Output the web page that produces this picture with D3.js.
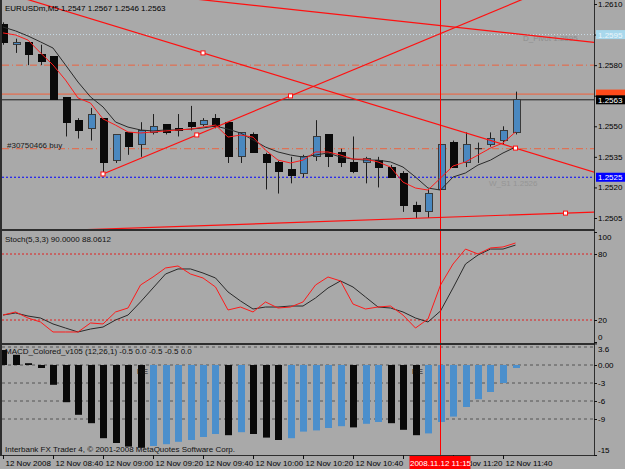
<!DOCTYPE html>
<html>
<head>
<meta charset="utf-8">
<script src="https://cdn.jsdelivr.net/npm/d3@7"></script>
<style>
  body { margin: 0; background: #a9a9a9; }
  svg { display: block; }
  text { font-family: "Liberation Sans", Arial, sans-serif; font-size: 8px; }
</style>
</head>
<body>
<div id="chart"></div>
<script>
// EURUSDm M5, 12 Nov 2008 08:20 - 11:45
const openP  = [1.2600,1.2590,1.2591,1.2585,1.2584,1.2564,1.2553,1.2549,1.2554,1.2533,1.2547,1.2541,1.2547,1.2551,1.2549,1.2552,1.2551,1.2554,1.2552,1.2535,1.2546,1.2536,1.2532,1.2529,1.2527,1.2535,1.2546,1.2537,1.2532,1.2532,1.2533,1.2530,1.2527,1.2511,1.2508,1.2519,1.2542,1.2532,1.2539,1.2541,1.2543,1.2547];
const highP  = [1.2601,1.2593,1.2591,1.2590,1.2584,1.2564,1.2554,1.2559,1.2554,1.2546,1.2547,1.2552,1.2556,1.2551,1.2556,1.2560,1.2554,1.2556,1.2552,1.2547,1.2547,1.2537,1.2533,1.2535,1.2536,1.2553,1.2546,1.2539,1.2545,1.2535,1.2535,1.2531,1.2528,1.2513,1.2519,1.2541,1.2543,1.2547,1.2542,1.2547,1.2550,1.2567];
const lowP   = [1.2590,1.2586,1.2580,1.2580,1.2563,1.2545,1.2544,1.2543,1.2527,1.2532,1.2536,1.2535,1.2546,1.2546,1.2545,1.2548,1.2550,1.2549,1.2532,1.2532,1.2537,1.2519,1.2517,1.2522,1.2525,1.2533,1.2530,1.2530,1.2527,1.2522,1.2520,1.2525,1.2508,1.2505,1.2505,1.2519,1.2530,1.2530,1.2532,1.2540,1.2541,1.2546];
const closeP = [1.2591,1.2591,1.2585,1.2582,1.2563,1.2552,1.2548,1.2556,1.2532,1.2546,1.2540,1.2548,1.2550,1.2547,1.2548,1.2550,1.2553,1.2550,1.2535,1.2547,1.2537,1.2532,1.2528,1.2526,1.2535,1.2545,1.2535,1.2532,1.2528,1.2534,1.2530,1.2525,1.2511,1.2508,1.2517,1.2541,1.2530,1.2541,1.2539,1.2544,1.2548,1.2563];

const maFast = [1.25958,1.25948,1.25923,1.25860,1.25801,1.25727,1.25639,1.25614,1.25536,1.25506,1.25472,1.25467,1.25472,1.25477,1.25482,1.25486,1.25496,1.25506,1.25447,1.25457,1.25447,1.25383,1.25334,1.25320,1.25334,1.25374,1.25374,1.25359,1.25339,1.25339,1.25325,1.25300,1.25226,1.25197,1.25187,1.25246,1.25305,1.25325,1.25359,1.25393,1.25418,1.25472];
const maSlow = [1.25987,1.25968,1.25943,1.25914,1.25884,1.25801,1.25717,1.25644,1.25595,1.25521,1.25496,1.25482,1.25477,1.25482,1.25482,1.25486,1.25492,1.25501,1.25486,1.25467,1.25433,1.25398,1.25374,1.25359,1.25349,1.25359,1.25369,1.25349,1.25339,1.25334,1.25334,1.25325,1.25300,1.25251,1.25197,1.25187,1.25251,1.25271,1.25310,1.25334,1.25369,1.25398];

const stochK = [24.5,27.3,21.8,18.2,9.1,9.1,9.1,17.3,16.4,27.3,30.9,51.8,59.1,67.3,69.1,61.8,58.2,50,29.1,31.8,27.3,36.4,30.9,31.8,36.4,51.8,59.1,55.5,34.5,30,31.8,32.7,24.5,12.7,20.9,51.8,70.9,84.5,80,85.5,86.4,90];
const stochD = [24.5,26.4,23.6,21.8,16.4,12.7,9.1,11.8,13.6,20,24.5,36.4,49.1,61.8,66.4,66.4,62.7,58.2,45.5,37.3,30,31.8,31.8,32.7,32.7,40,49.1,55.5,50,40.9,31.8,30.9,27.3,21.8,18.2,28.2,49.1,70.9,79.1,84.5,84.5,88.1];

const macd = [2.5,1.7,0.3,-0.5,-3.3,-6.2,-8.3,-9.7,-12.2,-13,-13.6,-13.8,-13.5,-13.2,-12.8,-12.5,-12,-11.5,-11.7,-11.2,-11.5,-12.1,-12.5,-12.2,-11.1,-10.9,-10.5,-10.2,-10.4,-9.8,-9.5,-9.7,-10.8,-11.7,-11.4,-9.5,-8.6,-7,-5.7,-4.5,-3,-0.5];
const macdMarks = [11, 33];

// 11:00 label sits under the cursor time tag, so only its tick is drawn
const timeTickBars = [0,4,8,12,16,20,24,28,32,36,40];
const timeLabels = ["12 Nov 2008","12 Nov 08:40","12 Nov 09:00","12 Nov 09:20","12 Nov 09:40","12 Nov 10:00","12 Nov 10:20","12 Nov 10:40","","12 Nov 11:20","12 Nov 11:40"];
const priceTicks = [1.2610,1.2595,1.2580,1.2565,1.2550,1.2535,1.2520,1.2505];
const priceTicksHidden = [1.2595, 1.2565];
const stochTicks = [100,80,20,0];
const macdTicks = [3.6,0,-3,-6,-9,-15];
const macdGrid = [3,0,-3,-6,-9];

const dPivot = 1.2595, takeLevel = 1.2580, askLevel = 1.25658, bidLevel = 1.2563, buyLevel = 1.2539, wS1Level = 1.2525;
const cursorBar = 35;

// trend lines as [bar, price] anchor pairs
const trendLines = [
  [[16, 1.2586], [41, 1.25393]],
  [[8, 1.25266], [23, 1.25649]],
  [[24, 1.26067], [47, 1.25914]],
  [[10, 1.2500], [45, 1.25074]]
];
const trendExtendLeft = [true, false, true, true];
const anchorPoints = [[16, 1.2586], [41, 1.25393], [8, 1.25266], [15.5, 1.254575], [23, 1.25649], [45, 1.25074]];

const width = 625;
const height = 469;
const left = 2, right = 594;
const pTop = 0, pBot = 229, sTop = 231, sBot = 343, mTop = 345, mBot = 455;

const svg = d3.select("#chart").append("svg")
  .attr("width", width)
  .attr("height", height);

svg.append("rect").attr("width", width).attr("height", height).attr("fill", "#a9a9a9");

const x = d3.scaleLinear().domain([0, 41]).range([3, 515.5]);
const yPrice = d3.scaleLinear().domain([1.2505, 1.2610]).range([218, 4]);
const yStoch = d3.scaleLinear().domain([0, 100]).range([342, 232]);
const yMacd = d3.scaleLinear().domain([-15, 3.6]).range([455, 343.4]);

const defs = svg.append("defs");
[["clipP", pTop, pBot], ["clipS", sTop, sBot], ["clipM", mTop, mBot]].forEach(([id, t, b]) => {
  defs.append("clipPath").attr("id", id).append("rect")
    .attr("x", left).attr("y", t).attr("width", right - left).attr("height", b - t);
});

// ---- price panel
const gp = svg.append("g").attr("clip-path", "url(#clipP)");

const hline = (p, color, dash, w) => gp.append("line")
  .attr("x1", left).attr("x2", right)
  .attr("y1", yPrice(p)).attr("y2", yPrice(p))
  .attr("stroke", color).attr("stroke-width", w || 1)
  .attr("stroke-dasharray", dash || null);

hline(dPivot, "#c9dce8", "1,2");
hline(takeLevel, "#ec6440", "7,3,1,3");
hline(askLevel, "#f2603a", null);
hline(bidLevel, "#1c1c1c", null);
hline(buyLevel, "#ec6440", "7,3,1,3");
hline(wS1Level, "#0000ff", "2,2");

gp.append("text").attr("x", 523).attr("y", 41).attr("fill", "#8d8d8d").text("D_Pivot 1.2595");
gp.append("text").attr("x", 489).attr("y", 186).attr("fill", "#959595").text("W_S1 1.2526");
gp.append("text").attr("x", 7).attr("y", 148).attr("fill", "#1a1a1a").text("#30750466 buy");

const bars = d3.range(openP.length);

gp.selectAll(".wick").data(bars).enter().append("line")
  .attr("x1", i => Math.round(x(i)) + 0.5).attr("x2", i => Math.round(x(i)) + 0.5)
  .attr("y1", i => yPrice(highP[i])).attr("y2", i => yPrice(lowP[i]))
  .attr("stroke", "#1e1e1e");

gp.selectAll(".body").data(bars.filter(i => openP[i] !== closeP[i])).enter().append("rect")
  .attr("x", i => Math.round(x(i)) - 3)
  .attr("y", i => yPrice(Math.max(openP[i], closeP[i])))
  .attr("width", 7)
  .attr("height", i => Math.max(1, Math.abs(yPrice(openP[i]) - yPrice(closeP[i]))))
  .attr("fill", i => closeP[i] > openP[i] ? "#4a88c0" : "#0a0a0a")
  .attr("stroke", i => closeP[i] > openP[i] ? "#3a3a3a" : "#0a0a0a")
  .attr("shape-rendering", "crispEdges");

gp.selectAll(".doji").data(bars.filter(i => openP[i] === closeP[i])).enter().append("line")
  .attr("x1", i => Math.round(x(i)) - 3).attr("x2", i => Math.round(x(i)) + 4)
  .attr("y1", i => yPrice(openP[i])).attr("y2", i => yPrice(openP[i]))
  .attr("stroke", "#1e1e1e");

const maLine = d3.line().x((d, i) => x(i)).y(d => yPrice(d));
gp.append("path").attr("d", maLine(maSlow)).attr("fill", "none").attr("stroke", "#2a2a2a");
gp.append("path").attr("d", maLine(maFast)).attr("fill", "none").attr("stroke", "#ff1a1a");

trendLines.forEach(([[i1, p1], [i2, p2]], k) => {
  const slope = (p2 - p1) / (i2 - i1);
  const a = trendExtendLeft[k] ? -10 : i1;
  const b = 60;
  gp.append("line")
    .attr("x1", x(a)).attr("y1", yPrice(p1 + slope * (a - i1)))
    .attr("x2", x(b)).attr("y2", yPrice(p1 + slope * (b - i1)))
    .attr("stroke", "#ff1010").attr("stroke-width", 1.2);
});

gp.selectAll(".anchor").data(anchorPoints).enter().append("rect")
  .attr("x", d => x(d[0]) - 2).attr("y", d => yPrice(d[1]) - 2)
  .attr("width", 4).attr("height", 4)
  .attr("fill", "#ffffff").attr("stroke", "#ff1010");

// ---- stochastic panel
const gs = svg.append("g").attr("clip-path", "url(#clipS)");
[80, 20].forEach(v => gs.append("line")
  .attr("x1", left).attr("x2", right).attr("y1", yStoch(v)).attr("y2", yStoch(v))
  .attr("stroke", "#e02020").attr("stroke-dasharray", "2,2"));

const stLine = d3.line().x((d, i) => x(i)).y(d => yStoch(d));
gs.append("path").attr("d", stLine(stochD)).attr("fill", "none").attr("stroke", "#2a2a2a");
gs.append("path").attr("d", stLine(stochK)).attr("fill", "none").attr("stroke", "#ff1a1a");
gs.append("text").attr("x", 5).attr("y", 242).attr("fill", "#111").text("Stoch(5,3,3) 90.0000 88.0612");

// ---- MACD panel
const gm = svg.append("g").attr("clip-path", "url(#clipM)");
macdGrid.forEach(v => gm.append("line")
  .attr("x1", left).attr("x2", right).attr("y1", yMacd(v)).attr("y2", yMacd(v))
  .attr("stroke", "#555").attr("stroke-dasharray", "3,3"));

gm.selectAll(".mbar").data(macd).enter().append("rect")
  .attr("x", (d, i) => Math.round(x(i)) - 3)
  .attr("y", d => yMacd(Math.max(0, d)))
  .attr("width", 7)
  .attr("height", d => Math.max(1, Math.abs(yMacd(d) - yMacd(0))))
  .attr("fill", (d, i) => i > 0 && d > macd[i - 1] ? "#4b8fcc" : "#0a0a0a");

gm.selectAll(".mark").data(macdMarks).enter().append("text")
  .attr("x", i => x(i) - 3.5).attr("y", 374).attr("fill", "#111").text("RE");

gm.append("text").attr("x", 5).attr("y", 354).attr("fill", "#111").text("MACD_Colored_v105 (12,26,1) -0.5 0.0 -0.5 -0.5 0.0");
gm.append("text").attr("x", 5).attr("y", 452).attr("fill", "#111").text("Interbank FX Trader 4, © 2001-2008 MetaQuotes Software Corp.");

// ---- cursor line across all panels
svg.append("line")
  .attr("x1", x(cursorBar)).attr("x2", x(cursorBar))
  .attr("y1", 0).attr("y2", mBot)
  .attr("stroke", "#ff0000");

// ---- borders
const border = "#2e2e2e";
svg.append("line").attr("x1", 1).attr("x2", 1).attr("y1", 0).attr("y2", mBot).attr("stroke", border).attr("stroke-width", 2);
svg.append("line").attr("x1", right + 0.5).attr("x2", right + 0.5).attr("y1", 0).attr("y2", mBot).attr("stroke", border);
[230, 344].forEach(y => svg.append("line").attr("x1", 0).attr("x2", right + 1).attr("y1", y).attr("y2", y)
  .attr("stroke", border).attr("stroke-width", 2));
svg.append("line").attr("x1", 0).attr("x2", right + 1).attr("y1", mBot + 0.5).attr("y2", mBot + 0.5).attr("stroke", border);

// ---- axes
const priceAxis = svg.append("g").attr("transform", `translate(${right},0)`)
  .call(d3.axisRight(yPrice).tickValues(priceTicks)
    .tickFormat(d => priceTicksHidden.includes(d) ? "" : d3.format(".4f")(d)).tickSize(3).tickPadding(1));

const stochAxis = svg.append("g").attr("transform", `translate(${right},0)`)
  .call(d3.axisRight(yStoch).tickValues(stochTicks).tickSize(3).tickPadding(1));
stochAxis.selectAll(".tick text").attr("dy", d => d === 100 ? "0.9em" : d === 0 ? "-0.3em" : "0.32em");

const macdAxis = svg.append("g").attr("transform", `translate(${right},0)`)
  .call(d3.axisRight(yMacd).tickValues(macdTicks)
    .tickFormat(d => d === 0 ? "0.00" : String(d)).tickSize(3).tickPadding(1));
macdAxis.selectAll(".tick text").attr("dy", d => d === 3.6 ? "1.05em" : d === -15 ? "-0.3em" : "0.32em");

const timeAxis = svg.append("g").attr("transform", `translate(0,${mBot})`)
  .call(d3.axisBottom(x).tickValues(timeTickBars).tickFormat((d, i) => timeLabels[i]).tickSize(4).tickPadding(1));
timeAxis.selectAll(".tick text").attr("text-anchor", "start").attr("x", 2);

[priceAxis, stochAxis, macdAxis, timeAxis].forEach(a => {
  a.select(".domain").remove();
  a.selectAll(".tick line").attr("stroke", "#111");
  a.selectAll(".tick text").attr("fill", "#000")
    .style("font-family", "'Liberation Sans', Arial, sans-serif").style("font-size", "8px");
});

// ---- price labels on the right scale
const tag = (p, fill, color) => {
  svg.append("rect").attr("x", right + 2).attr("y", yPrice(p) - 4.5)
    .attr("width", 29).attr("height", 9).attr("fill", fill);
  if (color) {
    svg.append("text").attr("x", right + 4).attr("y", yPrice(p) + 3)
      .attr("fill", color).text(d3.format(".4f")(p));
  }
};
tag(dPivot, "#a8d8ec", "#eaf5fa");
tag(askLevel, "#ff4a1a", null);
tag(bidLevel, "#000000", "#ffffff");
tag(wS1Level, "#0000ff", "#ffffff");

// ---- title
svg.append("text").attr("x", 5).attr("y", 11).attr("fill", "#000")
  .text("EURUSDm,M5  1.2547 1.2567 1.2546 1.2563");

// ---- cursor time tag
svg.append("rect").attr("x", x(cursorBar) - 31).attr("y", mBot + 1).attr("width", 61).attr("height", 13).attr("fill", "#ff0000");
svg.append("text").attr("x", x(cursorBar)).attr("y", mBot + 11).attr("text-anchor", "middle")
  .attr("fill", "#ffffff").text("2008.11.12 11:15");
</script>
</body>
</html>
